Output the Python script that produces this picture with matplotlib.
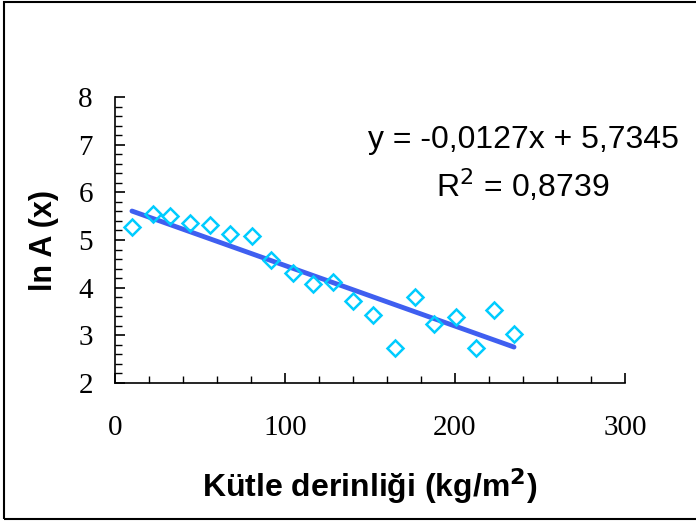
import numpy as np
import matplotlib.pyplot as plt
from matplotlib.ticker import MultipleLocator
from matplotlib.patches import Rectangle

# values
depth = [10, 22.4, 32.4, 44, 55.9, 67.6, 80.6, 91.8, 104.7, 116.5,
         128.2, 140, 151.8, 164.7, 176.5, 187.6, 200.6, 212.4, 223, 234.7]
lnA = [5.27, 5.55, 5.50, 5.36, 5.31, 5.13, 5.08, 4.58, 4.31, 4.08,
       4.12, 3.72, 3.43, 2.73, 3.80, 3.24, 3.38, 2.73, 3.53, 3.03]
slope = -0.0127
intercept = 5.7345
r2 = 0.8739

fig = plt.figure(figsize=(6.96, 5.23), dpi=100)
ax = fig.add_axes([0.1652, 0.2677, 0.7328, 0.5468])

#trend line
xl = np.array([min(depth), max(depth)])
ax.plot(xl, slope*xl + intercept, color='#3f5ff0', lw=3.5, solid_capstyle='round', zorder=2)
ax.plot(depth, lnA, 'D', mfc='none', mec='#00ccff', mew=1.8, ms=8, zorder=3)

ax.set_xlim(0, 300)
ax.set_ylim(2, 8)
ax.xaxis.set_major_locator(MultipleLocator(100))
ax.xaxis.set_minor_locator(MultipleLocator(20))
ax.yaxis.set_major_locator(MultipleLocator(1))
ax.yaxis.set_minor_locator(MultipleLocator(0.2))
ax.tick_params(which='both', direction='in', color='black')
ax.tick_params(which='major', length=7, width=1.2)
ax.tick_params(which='minor', length=5, width=1)
ax.tick_params(axis='x', pad=23)
ax.tick_params(axis='y', pad=16)
for lab in ax.get_xticklabels() + ax.get_yticklabels():
    lab.set_family('Liberation Serif')
    lab.set_fontsize(21)
ax.spines['top'].set_visible(False)
ax.spines['right'].set_visible(False)
ax.spines['left'].set_linewidth(1.2)
ax.spines['bottom'].set_linewidth(1.2)

ax.set_xlabel('Kütle derinliği (kg/m$\\mathbf{^2}$)', family='Liberation Sans',
              fontsize=23, fontweight='bold', labelpad=18)
ax.set_ylabel('ln A (x)', family='Liberation Sans', fontsize=22,
              fontweight='bold', labelpad=14)

ax.text(0.8, 0.85, 'y = -0,0127x + 5,7345', transform=ax.transAxes,
        family='Liberation Sans', fontsize=23, ha='center', va='center')
ax.text(0.8, 0.69, 'R$^2$ = 0,8739', transform=ax.transAxes,
        family='Liberation Sans', fontsize=23, ha='center', va='center')

fig.patches.append(Rectangle((4/696, 1-519/523), 1.1, 517/523, transform=fig.transFigure,
                             fill=False, ec='black', lw=1.5))

plt.savefig('out.png', dpi=100)
